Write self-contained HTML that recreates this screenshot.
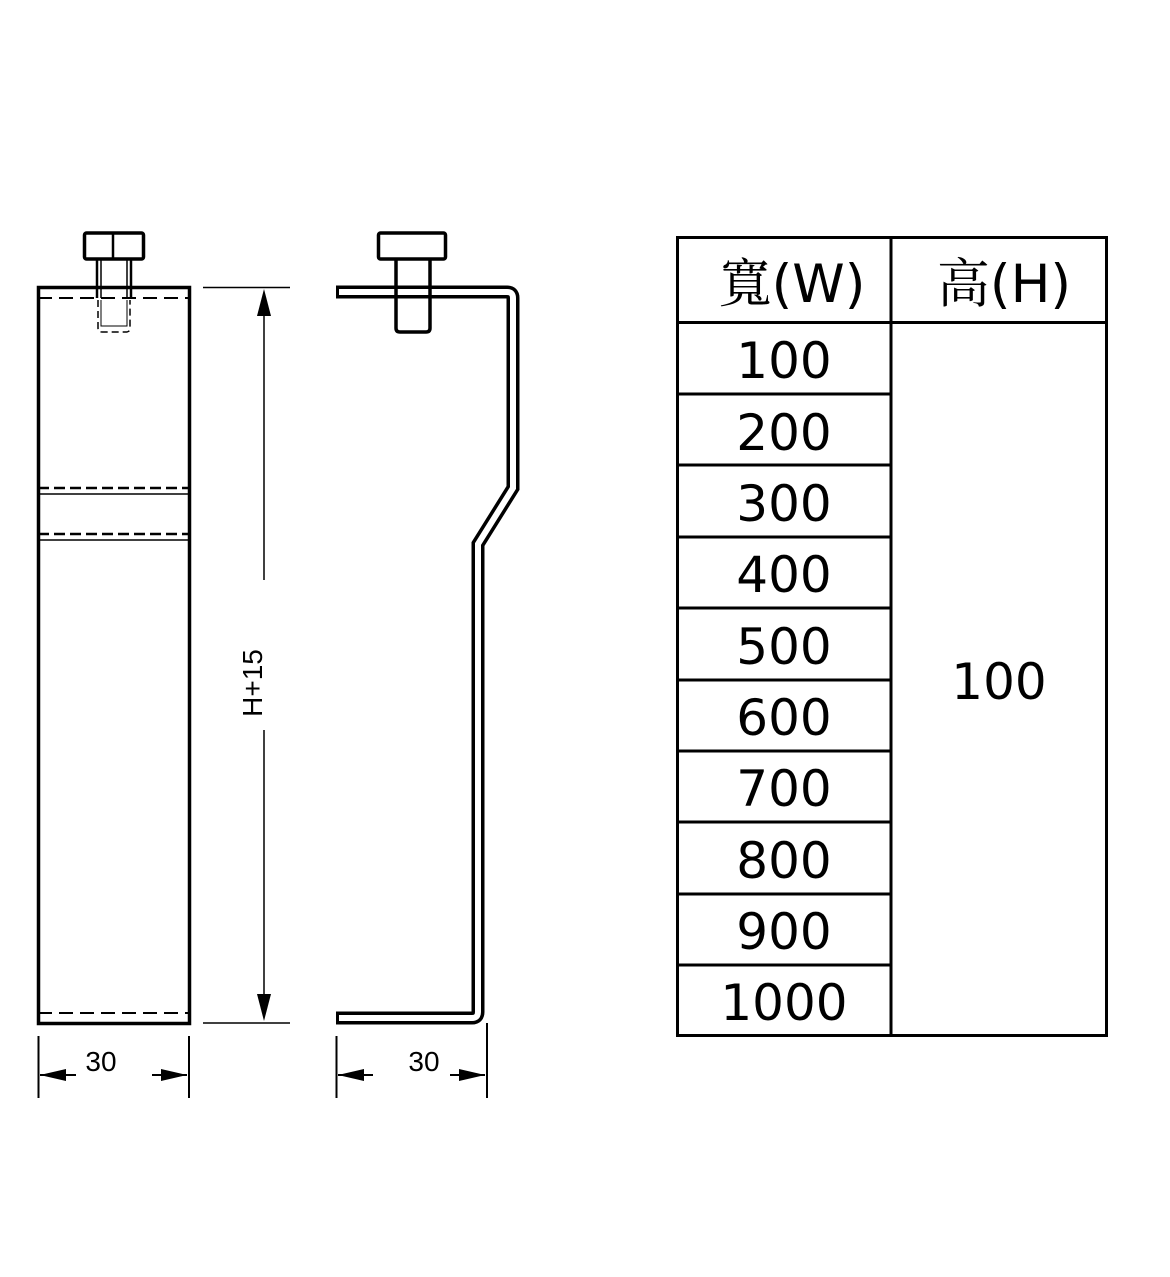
<!DOCTYPE html>
<html><head><meta charset="utf-8"><style>
html,body{margin:0;padding:0;background:#fff;}
svg{display:block}
</style></head><body>
<svg width="1170" height="1277" viewBox="0 0 1170 1277" xmlns="http://www.w3.org/2000/svg">
<rect width="1170" height="1277" fill="#fff"/>
<g fill="none" stroke="#000">
<rect x="38.5" y="287.5" width="151" height="736" stroke-width="3.5"/>
<line x1="38" y1="298" x2="189" y2="298" stroke-width="2" stroke-dasharray="14,7"/>
<line x1="38" y1="488" x2="189" y2="488" stroke-width="2.5" stroke-dasharray="11,5"/>
<line x1="38" y1="494" x2="189" y2="494" stroke-width="1.5"/>
<line x1="38" y1="534" x2="189" y2="534" stroke-width="2.5" stroke-dasharray="11,5"/>
<line x1="38" y1="540" x2="189" y2="540" stroke-width="1.5"/>
<line x1="38" y1="1013" x2="189" y2="1013" stroke-width="2" stroke-dasharray="14,7"/>
<rect x="84.5" y="233" width="59" height="26" rx="2" stroke-width="3.5"/>
<line x1="113" y1="233" x2="113" y2="259" stroke-width="2.5"/>
<line x1="97" y1="259" x2="97" y2="298" stroke-width="2.5"/>
<line x1="101" y1="259" x2="101" y2="298" stroke-width="1.5"/>
<line x1="127" y1="259" x2="127" y2="298" stroke-width="1.5"/>
<line x1="131" y1="259" x2="131" y2="298" stroke-width="2.5"/>
<path d="M98 300 V328 Q98 332 102 332 H126 Q130 332 130 328 V300" stroke-width="1.5" stroke-dasharray="7,4"/>
<path d="M101 300 V326 H127 V300" stroke-width="1"/>
<line x1="203" y1="287.5" x2="290" y2="287.5" stroke-width="1.5"/>
<line x1="203" y1="1023" x2="290" y2="1023" stroke-width="1.5"/>
<line x1="264" y1="300" x2="264" y2="580" stroke-width="1.5"/>
<line x1="264" y1="730" x2="264" y2="1010" stroke-width="1.5"/>
<path d="M336 292 H507 Q513 292 513 298 V488 L478 544 V1012 Q478 1018 472 1018 H336" stroke-width="13"/>
<path d="M339 292 H507 Q513 292 513 298 V488 L478 544 V1012 Q478 1018 472 1018 H339" stroke="#fff" stroke-width="6"/>
<rect x="378.5" y="233" width="67" height="26" rx="2" stroke-width="3.5"/>
<path d="M396 259 V328 Q396 332 400 332 H426 Q430 332 430 328 V259" stroke-width="3.5"/>
<line x1="38.5" y1="1036" x2="38.5" y2="1098" stroke-width="2"/>
<line x1="189" y1="1036" x2="189" y2="1098" stroke-width="2"/>
<line x1="40" y1="1075" x2="76" y2="1075" stroke-width="2"/>
<line x1="152" y1="1075" x2="187" y2="1075" stroke-width="2"/>
<line x1="336.5" y1="1036" x2="336.5" y2="1098" stroke-width="2"/>
<line x1="487" y1="1023" x2="487" y2="1098" stroke-width="2"/>
<line x1="338" y1="1075" x2="373" y2="1075" stroke-width="2"/>
<line x1="450" y1="1075" x2="485" y2="1075" stroke-width="2"/>
<rect x="677.5" y="237.5" width="429" height="798" stroke-width="3"/>
<line x1="891" y1="237" x2="891" y2="1036" stroke-width="3"/>
<line x1="677" y1="322.5" x2="1106" y2="322.5" stroke-width="3"/>
<path d="M677 394H891M677 465H891M677 537H891M677 608H891M677 680H891M677 751H891M677 822H891M677 894H891M677 965H891" stroke-width="3"/>
</g>
<g fill="#000">
<path d="M264 289 L257 316 H271 Z"/>
<path d="M264 1021 L257 994 H271 Z"/>
<path d="M40 1075 L66 1069 V1081 Z"/>
<path d="M187 1075 L161 1069 V1081 Z"/>
<path d="M338 1075 L364 1069 V1081 Z"/>
<path d="M485 1075 L459 1069 V1081 Z"/>
</g>
<g font-family="'Liberation Sans','DejaVu Sans',sans-serif" fill="#000">
<text x="101" y="1071" font-size="28" text-anchor="middle">30</text>
<text x="424" y="1071" font-size="28" text-anchor="middle">30</text>
<text transform="translate(262,683) rotate(-90)" font-size="28" text-anchor="middle">H+15</text>
<g font-size="50" text-anchor="middle" font-family="'DejaVu Sans','Liberation Sans','Noto Sans CJK TC',sans-serif">
<text x="784" y="378">100</text>
<text x="784" y="450">200</text>
<text x="784" y="521">300</text>
<text x="784" y="592">400</text>
<text x="784" y="664">500</text>
<text x="784" y="735">600</text>
<text x="784" y="806">700</text>
<text x="784" y="878">800</text>
<text x="784" y="949">900</text>
<text x="784" y="1020">1000</text>
<text x="999" y="699">100</text>
<text x="792" y="302" font-size="53"><tspan font-family="'Noto Serif CJK SC','Noto Sans CJK TC',serif">寬</tspan>(W)</text>
<text x="1004" y="302" font-size="53"><tspan font-family="'Noto Serif CJK SC','Noto Sans CJK TC',serif">高</tspan>(H)</text>
</g>
</g>
</svg>
</body></html>
